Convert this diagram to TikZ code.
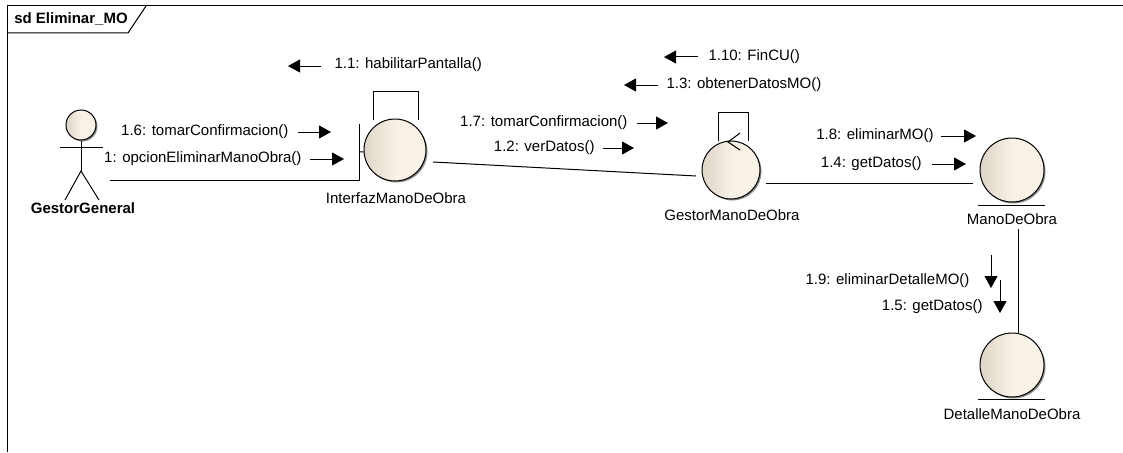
\documentclass[tikz,border=0pt]{standalone}
\usepackage{fontspec}
\setmainfont{Liberation Sans}
\usetikzlibrary{shadows,arrows.meta}

\definecolor{balldark}{HTML}{DDD5C7}
\definecolor{balllight}{HTML}{F8F1E5}

\begin{document}
\begin{tikzpicture}[x=1pt,y=-1pt,line width=1pt,
	ball/.style =
	{draw,
		shape = circle,
		inner sep = 0pt,
		left color = balldark,
		right color = balllight,
		middle color = balllight,
		drop shadow = {shadow xshift=1.5pt,shadow yshift=-1.5pt,fill=black!45,opacity=1}},
	lbl/.style = {font=\fontsize{15}{17}\selectfont,inner sep=0pt},
	boldlbl/.style = {font=\fontsize{15}{17}\selectfont\bfseries,inner sep=0pt},
	msg/.style = {-{Triangle[length=12pt,width=13pt]}}]
\useasboundingbox (0,0) rectangle (1123,452);

%frame
\coordinate (frameA) at (7,452);
\coordinate (frameB) at (7,6);
\coordinate (frameC) at (1123,6);
\coordinate (tabA) at (7,33);
\coordinate (tabB) at (128,33);
\coordinate (tabC) at (146,6);
\draw (frameA) -- (frameB) -- (frameC);
\draw (tabA) -- (tabB) -- (tabC);
\node[boldlbl] (title) at (71,19) {sd Eliminar\_MO};

%actor
\node[ball,minimum size=30pt] (actorHead) at (81,125) {};
\coordinate (actorHip) at (81,171);
\coordinate (armL) at (60,147);
\coordinate (armR) at (103,147);
\coordinate (legL) at (65,200);
\coordinate (legR) at (99,200);
\draw (actorHead) -- (actorHip);
\draw (armL) -- (armR);
\draw (legL) -- (actorHip) -- (legR);
\node[boldlbl] (actorLabel) at (83,208) {GestorGeneral};
\coordinate (actorEnd) at (110,180);

%interfaz
\node[ball,minimum size=62pt] (interfaz) at (395,150) {};
\coordinate (barTop) at (359,124);
\coordinate (barMid) at (359,152);
\coordinate (barLow) at (359,180);
\coordinate (barEnd) at (359,181);
\draw (barTop) -- (barEnd);
\draw (barMid) -- (interfaz);
\node[lbl] (interfazLabel) at (396,198) {InterfazManoDeObra};
\coordinate (loopA) at (373,120);
\coordinate (loopB) at (373,91);
\coordinate (loopC) at (418,91);
\coordinate (loopD) at (418,120);
\draw (loopA) -- (loopB) -- (loopC) -- (loopD);

%gestor
\node[ball,minimum size=58pt] (gestor) at (731,170) {};
\node[lbl] (gestorLabel) at (732,215) {GestorManoDeObra};
\coordinate (selfA) at (718,141);
\coordinate (selfB) at (718,112);
\coordinate (selfC) at (748,112);
\coordinate (selfD) at (748,141);
\draw (selfA) -- (selfB) -- (selfC) -- (selfD);
\coordinate (tickA) at (740,133);
\coordinate (tickB) at (728,142);
\coordinate (tickC) at (740,150);
\draw (tickA) -- (tickB) -- (tickC);

%mano de obra
\node[ball,minimum size=64pt] (mano) at (1012,170) {};
\coordinate (manoBarL) at (978,205);
\coordinate (manoBarR) at (1045,205);
\draw (manoBarL) -- (manoBarR);
\node[lbl] (manoLabel) at (1012,219) {ManoDeObra};

%detalle
\node[ball,minimum size=64pt] (detalle) at (1012,365) {};
\coordinate (detalleBarL) at (978,399);
\coordinate (detalleBarR) at (1045,399);
\draw (detalleBarL) -- (detalleBarR);
\node[lbl] (detalleLabel) at (1012,414) {DetalleManoDeObra};

%links
\draw (actorEnd) -- (barLow);
\coordinate (linkA) at (433,162);
\coordinate (linkB) at (696,176);
\draw (linkA) -- (linkB);
\coordinate (linkC) at (766,183);
\coordinate (linkD) at (973,183);
\draw (linkC) -- (linkD);
\coordinate (linkE) at (1018,229);
\coordinate (linkF) at (1018,333);
\draw (linkE) -- (linkF);

%messages
\node[lbl,anchor=west] (m11) at (334,65) {1.1: habilitarPantalla()};
\coordinate (m11a) at (321,66);
\coordinate (m11b) at (288,66);
\draw[msg] (m11a) -- (m11b);

\node[lbl,anchor=east] (m16) at (289,132) {1.6: tomarConfirmacion()};
\coordinate (m16a) at (298,132);
\coordinate (m16b) at (331,132);
\draw[msg] (m16a) -- (m16b);

\node[lbl,anchor=east] (m1) at (302,159) {1: opcionEliminarManoObra()};
\coordinate (m1a) at (310,159);
\coordinate (m1b) at (344,159);
\draw[msg] (m1a) -- (m1b);

\node[lbl,anchor=east] (m17) at (628,123) {1.7: tomarConfirmacion()};
\coordinate (m17a) at (637,123);
\coordinate (m17b) at (668,123);
\draw[msg] (m17a) -- (m17b);

\node[lbl,anchor=east] (m12) at (595,148) {1.2: verDatos()};
\coordinate (m12a) at (603,148);
\coordinate (m12b) at (634,148);
\draw[msg] (m12a) -- (m12b);

\node[lbl,anchor=west] (m110) at (708,57) {1.10: FinCU()};
\coordinate (m110a) at (698,57);
\coordinate (m110b) at (664,57);
\draw[msg] (m110a) -- (m110b);

\node[lbl,anchor=west] (m13) at (666,85) {1.3: obtenerDatosMO()};
\coordinate (m13a) at (658,85);
\coordinate (m13b) at (624,85);
\draw[msg] (m13a) -- (m13b);

\node[lbl,anchor=east] (m18) at (934,136) {1.8: eliminarMO()};
\coordinate (m18a) at (941,136);
\coordinate (m18b) at (976,136);
\draw[msg] (m18a) -- (m18b);

\node[lbl,anchor=east] (m14) at (922,164) {1.4: getDatos()};
\coordinate (m14a) at (932,164);
\coordinate (m14b) at (966,164);
\draw[msg] (m14a) -- (m14b);

\node[lbl,anchor=east] (m19) at (970,281) {1.9: eliminarDetalleMO()};
\coordinate (m19a) at (991,255);
\coordinate (m19b) at (991,288);
\draw[msg] (m19a) -- (m19b);

\node[lbl,anchor=east] (m15) at (983,307) {1.5: getDatos()};
\coordinate (m15a) at (1000,280);
\coordinate (m15b) at (1000,313);
\draw[msg] (m15a) -- (m15b);

\end{tikzpicture}
\end{document}
